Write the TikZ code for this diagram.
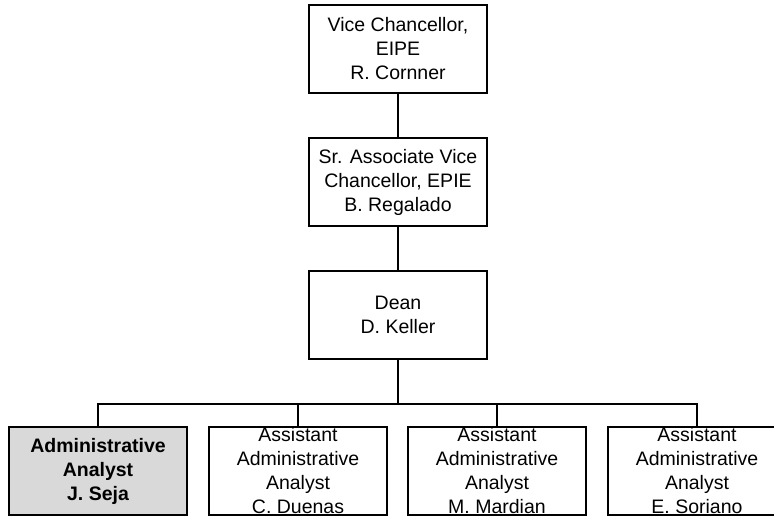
\documentclass[tikz,border=0pt]{standalone}
\usepackage{fontspec}
\setmainfont{Liberation Sans}
\begin{document}
\begin{tikzpicture}[x=1pt,y=-1pt,
  orgbox/.style={draw=black,line width=1.5pt,fill=white,minimum width=178pt,minimum height=88pt,
    inner sep=0pt,align=center,font=\fontsize{19.5}{24}\selectfont},
  hlbox/.style={orgbox,fill=hlgray,font=\fontsize{19.5}{24}\selectfont\bfseries},
  link/.style={draw=black,line width=1.5pt}]
\definecolor{hlgray}{RGB}{217,217,217}
\clip (0,0) rectangle (774,516);
\fill[white] (0,0) rectangle (774,516);
\node[orgbox] (vc) at (398,49) {Vice Chancellor,\\EIPE\\R. Cornner};
\node[orgbox] (savc) at (398,182) {Sr. Associate Vice\\Chancellor, EPIE\\B. Regalado};
\node[orgbox] (dean) at (398,315) {Dean\\D. Keller};
\node[hlbox] (aa) at (98,471) {Administrative\\Analyst\\J. Seja};
\node[orgbox] (a1) at (298,471) {Assistant\\Administrative\\Analyst\\C. Duenas};
\node[orgbox] (a2) at (497,471) {Assistant\\Administrative\\Analyst\\M. Mardian};
\node[orgbox] (a3) at (697,471) {Assistant\\Administrative\\Analyst\\E. Soriano};
\coordinate (bar) at (398,404);
\draw[link] (vc) -- (savc);
\draw[link] (savc) -- (dean);
\draw[link] (dean.south) -- (bar);
\draw[link] (aa.north) |- (bar) -| (a3.north);
\draw[link] (a1.north) -- (a1.north |- bar);
\draw[link] (a2.north) -- (a2.north |- bar);
\end{tikzpicture}
\end{document}
